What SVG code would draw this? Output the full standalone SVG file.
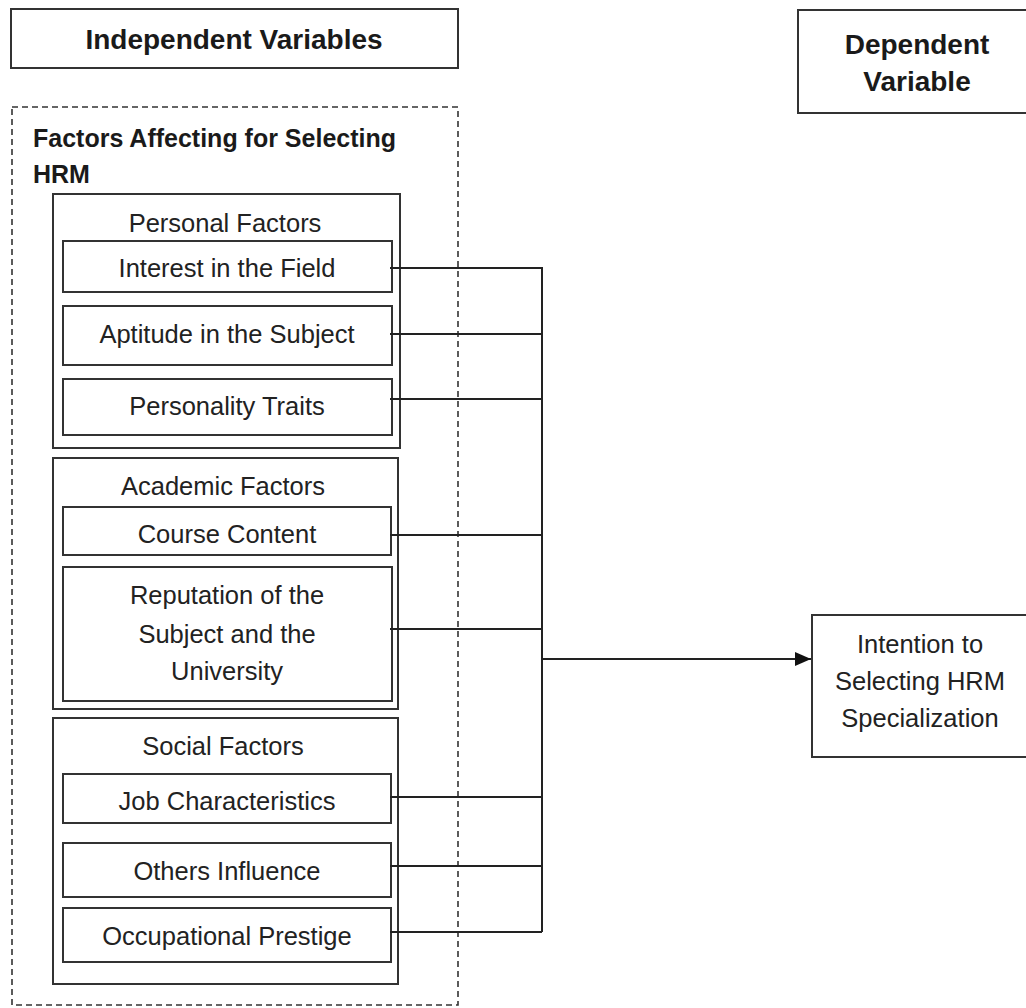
<svg xmlns="http://www.w3.org/2000/svg" width="1026" height="1008" viewBox="0 0 1026 1008">
<style>
.box{fill:#fff;stroke:#333;stroke-width:2}
.dash{fill:none;stroke:#333;stroke-width:1.6;stroke-dasharray:6,4}
.h{font-family:"Liberation Sans",Arial,sans-serif;font-weight:bold;font-size:28px;fill:#1a1a1a}
.hb{font-family:"Liberation Sans",Arial,sans-serif;font-weight:bold;font-size:25px;fill:#1a1a1a}
.t{font-family:"Liberation Sans",Arial,sans-serif;font-size:25.5px;fill:#222;text-anchor:middle}
.c{text-anchor:middle}
.ln{fill:none;stroke:#222;stroke-width:2}
</style>
<defs>
<marker id="arr" markerWidth="16" markerHeight="14" refX="16" refY="7" orient="auto" markerUnits="userSpaceOnUse" viewBox="0 0 16 14">
<path d="M0,0 L16,7 L0,14 Z" fill="#111"/>
</marker>
</defs>
<g id="independent-header">
<rect class="box" x="11" y="9" width="447" height="59"/>
<text class="h c" x="234" y="49">Independent Variables</text>
</g>
<g id="dependent-header">
<rect class="box" x="798" y="10" width="240" height="103"/>
<text class="h c" x="917" y="54">Dependent</text>
<text class="h c" x="917" y="91">Variable</text>
</g>
<g id="factors-group">
<rect class="dash" x="12" y="107" width="446" height="898"/>
<text class="hb" x="33" y="147">Factors Affecting for Selecting</text>
<text class="hb" x="33" y="183">HRM</text>
</g>
<g id="personal-factors">
<rect class="box" x="53" y="194" width="347" height="254"/>
<text class="t" x="225" y="232">Personal Factors</text>
</g>
<g id="interest">
<rect class="box" x="63" y="241" width="329" height="51"/>
<text class="t" x="227" y="277">Interest in the Field</text>
</g>
<g id="aptitude">
<rect class="box" x="63" y="306" width="329" height="59"/>
<text class="t" x="227" y="343">Aptitude in the Subject</text>
</g>
<g id="personality">
<rect class="box" x="63" y="379" width="329" height="56"/>
<text class="t" x="227" y="415">Personality Traits</text>
</g>
<g id="academic-factors">
<rect class="box" x="53" y="458" width="345" height="251"/>
<text class="t" x="223" y="495">Academic Factors</text>
</g>
<g id="course-content">
<rect class="box" x="63" y="507" width="328" height="48"/>
<text class="t" x="227" y="543">Course Content</text>
</g>
<g id="reputation">
<rect class="box" x="63" y="567" width="329" height="134"/>
<text class="t" x="227" y="604">Reputation of the</text>
<text class="t" x="227" y="643">Subject and the</text>
<text class="t" x="227" y="680">University</text>
</g>
<g id="social-factors">
<rect class="box" x="53" y="718" width="345" height="266"/>
<text class="t" x="223" y="755">Social Factors</text>
</g>
<g id="job">
<rect class="box" x="63" y="774" width="328" height="49"/>
<text class="t" x="227" y="810">Job Characteristics</text>
</g>
<g id="others">
<rect class="box" x="63" y="843" width="328" height="54"/>
<text class="t" x="227" y="880">Others Influence</text>
</g>
<g id="prestige">
<rect class="box" x="63" y="908" width="328" height="54"/>
<text class="t" x="227" y="945">Occupational Prestige</text>
</g>
<g id="intention">
<rect class="box" x="812" y="615" width="230" height="142"/>
<text class="t" x="920" y="653">Intention to</text>
<text class="t" x="920" y="690">Selecting HRM</text>
<text class="t" x="920" y="727">Specialization</text>
</g>
<g id="connectors">
<path class="ln" d="M390,268 H542 V932"/>
<path class="ln" d="M390,334 H542"/>
<path class="ln" d="M390,399 H542"/>
<path class="ln" d="M390,535 H542"/>
<path class="ln" d="M390,629 H542"/>
<path class="ln" d="M390,797 H542"/>
<path class="ln" d="M390,866 H542"/>
<path class="ln" d="M390,932 H542"/>
<path class="ln" d="M542,659 H811" marker-end="url(#arr)" stroke-width="2.5"/>
</g>
</svg>
